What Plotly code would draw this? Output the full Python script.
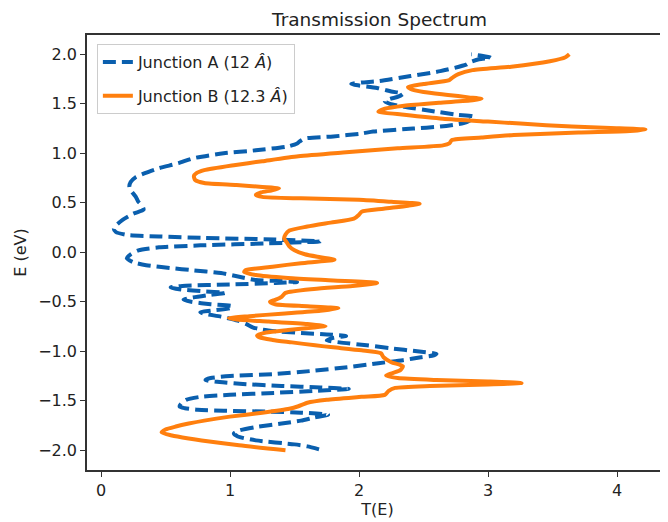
import plotly.graph_objects as go

# Junction A (blue dashed): energy E (eV) and transmission T(E)
E_a = [-1.99, -1.96, -1.94, -1.90, -1.86, -1.83, -1.80, -1.765, -1.73, -1.70, -1.67, -1.64,
       -1.62, -1.61, -1.60, -1.59, -1.575, -1.56, -1.53, -1.49, -1.46, -1.44, -1.42, -1.40,
       -1.38, -1.365, -1.35, -1.33, -1.31, -1.29, -1.27, -1.25, -1.23, -1.20, -1.16, -1.12,
       -1.09, -1.06, -1.04, -1.025, -1.00, -0.97, -0.94, -0.91, -0.89, -0.865, -0.845, -0.83,
       -0.815, -0.80, -0.78, -0.76, -0.72, -0.69, -0.65, -0.62, -0.605, -0.59, -0.565, -0.545,
       -0.525, -0.50, -0.48, -0.46, -0.43, -0.41, -0.395, -0.375, -0.355, -0.34, -0.325, -0.31,
       -0.30, -0.29, -0.28, -0.25, -0.21, -0.18, -0.16, -0.13, -0.10, -0.06, -0.02, 0.02,
       0.05, 0.07, 0.09, 0.11, 0.13, 0.145, 0.16, 0.175, 0.205, 0.235, 0.27, 0.33, 0.39, 0.43,
       0.47, 0.51, 0.56, 0.61, 0.66, 0.71, 0.76, 0.80, 0.85, 0.90, 0.95, 1.00, 1.03, 1.07,
       1.10, 1.12, 1.15, 1.17, 1.20, 1.22, 1.25, 1.27, 1.305, 1.34, 1.37, 1.39, 1.42, 1.44,
       1.47, 1.50, 1.525, 1.55, 1.57, 1.60, 1.625, 1.66, 1.685, 1.70, 1.715, 1.73, 1.78, 1.83,
       1.895, 1.92, 1.95, 1.965, 1.985, 2.00]
T_a = [1.69, 1.60, 1.50, 1.20, 1.06, 1.03, 1.07, 1.20, 1.40, 1.55, 1.65, 1.76,
       1.55, 1.30, 0.95, 0.75, 0.65, 0.61, 0.62, 0.66, 0.77, 1.00, 1.34, 1.65,
       1.92, 1.70, 1.40, 1.10, 0.92, 0.81, 0.85, 1.00, 1.34, 1.62, 1.91, 2.15,
       2.34, 2.48, 2.58, 2.60, 2.45, 2.25, 2.06, 1.85, 1.75, 1.80, 1.90, 1.75,
       1.55, 1.38, 1.25, 1.18, 1.12, 1.06, 0.93, 0.80, 0.77, 0.85, 1.00, 1.02,
       0.85, 0.70, 0.64, 0.70, 0.85, 0.96, 0.80, 0.62, 0.54, 0.63, 1.00, 1.35,
       1.52, 1.40, 1.20, 1.08, 0.93, 0.70, 0.55, 0.35, 0.25, 0.20, 0.23, 0.29,
       0.45, 0.77, 1.30, 1.70, 1.35, 0.80, 0.45, 0.20, 0.115, 0.10, 0.115, 0.17, 0.25, 0.33,
       0.32, 0.29, 0.27, 0.24, 0.22, 0.23, 0.27, 0.34, 0.45, 0.60, 0.715, 0.95, 1.20, 1.45,
       1.52, 1.54, 1.58, 1.80, 2.02, 2.11, 2.42, 2.63, 2.81, 2.87, 2.89, 2.76, 2.60, 2.50,
       2.35, 2.24, 2.20, 2.24, 2.30, 2.34, 2.25, 2.14, 2.00, 1.94, 2.02, 2.16, 2.40, 2.63,
       2.83, 2.86, 2.93, 3.02, 2.95, 2.87]

# Junction B (orange solid)
E_b = [-2.00, -1.95, -1.90, -1.88, -1.85, -1.82, -1.79, -1.76, -1.73, -1.70, -1.66, -1.62,
       -1.58, -1.555, -1.52, -1.49, -1.46, -1.44, -1.40, -1.37, -1.35, -1.335, -1.32, -1.305,
       -1.29, -1.27, -1.245, -1.22, -1.19, -1.15, -1.11, -1.06, -1.02, -0.99, -0.96, -0.94,
       -0.91, -0.885, -0.86, -0.84, -0.81, -0.785, -0.76, -0.745, -0.725, -0.70, -0.68, -0.665,
       -0.645, -0.62, -0.59, -0.565, -0.545, -0.525, -0.50, -0.48, -0.45, -0.41, -0.37, -0.34,
       -0.31, -0.285, -0.26, -0.23, -0.20, -0.18, -0.145, -0.11, -0.075, -0.05, -0.02, 0.02,
       0.06, 0.10, 0.14, 0.18, 0.22, 0.26, 0.30, 0.34, 0.38, 0.41, 0.44, 0.47, 0.49, 0.51,
       0.53, 0.545, 0.56, 0.58, 0.605, 0.625, 0.645, 0.66, 0.68, 0.70, 0.73, 0.77, 0.80, 0.83,
       0.88, 0.92, 0.97, 1.01, 1.05, 1.08, 1.10, 1.135, 1.16, 1.185, 1.21, 1.225, 1.24, 1.255,
       1.27, 1.30, 1.32, 1.35, 1.39, 1.42, 1.45, 1.48, 1.51, 1.535, 1.55, 1.565, 1.59, 1.62,
       1.65, 1.67, 1.70, 1.74, 1.77, 1.80, 1.84, 1.875, 1.93, 1.97, 2.00]
T_b = [1.43, 1.07, 0.78, 0.68, 0.55, 0.47, 0.50, 0.58, 0.68, 0.80, 1.00, 1.25,
       1.46, 1.53, 1.60, 1.75, 2.02, 2.20, 2.23, 2.28, 2.55, 3.00, 3.26, 3.00,
       2.60, 2.30, 2.21, 2.26, 2.32, 2.34, 2.25, 2.19, 2.17, 2.02, 1.80, 1.66,
       1.48, 1.33, 1.23, 1.21, 1.28, 1.45, 1.65, 1.74, 1.60, 1.30, 1.05, 0.99,
       1.15, 1.40, 1.70, 1.84, 1.60, 1.35, 1.31, 1.35, 1.40, 1.43, 1.65, 1.95,
       2.14, 1.80, 1.45, 1.20, 1.11, 1.12, 1.33, 1.55, 1.81, 1.70, 1.58, 1.50,
       1.46, 1.44, 1.42, 1.43, 1.46, 1.60, 1.78, 1.96, 2.00, 2.02, 2.19, 2.38, 2.47, 2.25,
       2.00, 1.55, 1.25, 1.20, 1.24, 1.32, 1.38, 1.25, 1.05, 0.80, 0.73, 0.72, 0.74, 0.80,
       1.03, 1.25, 1.53, 1.90, 2.30, 2.65, 2.70, 2.72, 2.95, 3.20, 3.70, 4.10, 4.22, 3.95,
       3.65, 3.25, 3.00, 2.65, 2.35, 2.15, 2.20, 2.35, 2.62, 2.88, 2.95, 2.85, 2.69, 2.50,
       2.40, 2.38, 2.50, 2.70, 2.73, 2.77, 2.88, 3.18, 3.48, 3.60, 3.63]

x_ticks = [0, 1, 2, 3, 4]
y_ticks = [-2.0, -1.5, -1.0, -0.5, 0.0, 0.5, 1.0, 1.5, 2.0]

BLUE = "#0a5fae"
ORANGE = "#ff7f0e"
FONT = "DejaVu Sans"

# page body has an 8px default margin, so the figure is sized to fit the window
W, H = 660, 514

fig = go.Figure()
fig.add_trace(go.Scatter(
    x=T_a, y=E_a, mode="lines", name="Junction A (12 <i>Â</i>)",
    legendgroup="a",
    line=dict(color=BLUE, width=4, dash="13px,6px", shape="spline", smoothing=0.6),
))
fig.add_trace(go.Scatter(
    x=T_b, y=E_b, mode="lines", name="Junction B (12.3 <i>Â</i>)",
    legendgroup="b",
    line=dict(color=ORANGE, width=4, shape="spline", smoothing=0.6),
))

fig.update_layout(
    width=W, height=H,
    margin=dict(l=79, r=0, t=27, b=52),
    paper_bgcolor="white", plot_bgcolor="white",
    font=dict(family=FONT, size=16, color="#222"),
    title=dict(text="Transmission Spectrum", x=371.6 / W, xref="container", xanchor="center",
               y=1 - 12 / H, yref="container", yanchor="middle",
               font=dict(family=FONT, size=18.5, color="#222")),
    showlegend=True,
    legend=dict(x=0.017, y=0.979, xanchor="left", yanchor="top",
                bgcolor="rgba(255,255,255,0.85)", bordercolor="#cccccc", borderwidth=1,
                font=dict(family=FONT, size=16, color="#222"),
                traceorder="grouped", tracegroupgap=10),
    xaxis=dict(range=[-0.1085, 4.395], tickvals=x_ticks, ticktext=[str(v) for v in x_ticks],
               showgrid=False, zeroline=False, showline=True, linecolor="#333", linewidth=1.5,
               mirror=True, ticks="outside", ticklen=5, tickcolor="#333",
               title=dict(text="T(E)", standoff=2, font=dict(family=FONT, size=16))),
    yaxis=dict(range=[-2.199, 2.195], tickvals=y_ticks, tickformat=".1f",
               showgrid=False, zeroline=False, showline=True, linecolor="#333", linewidth=1.5,
               mirror=False, ticks="outside", ticklen=5, tickcolor="#333",
               title=dict(text="E (eV)", standoff=8, font=dict(family=FONT, size=16))),
)

fig.write_html("out.html")
